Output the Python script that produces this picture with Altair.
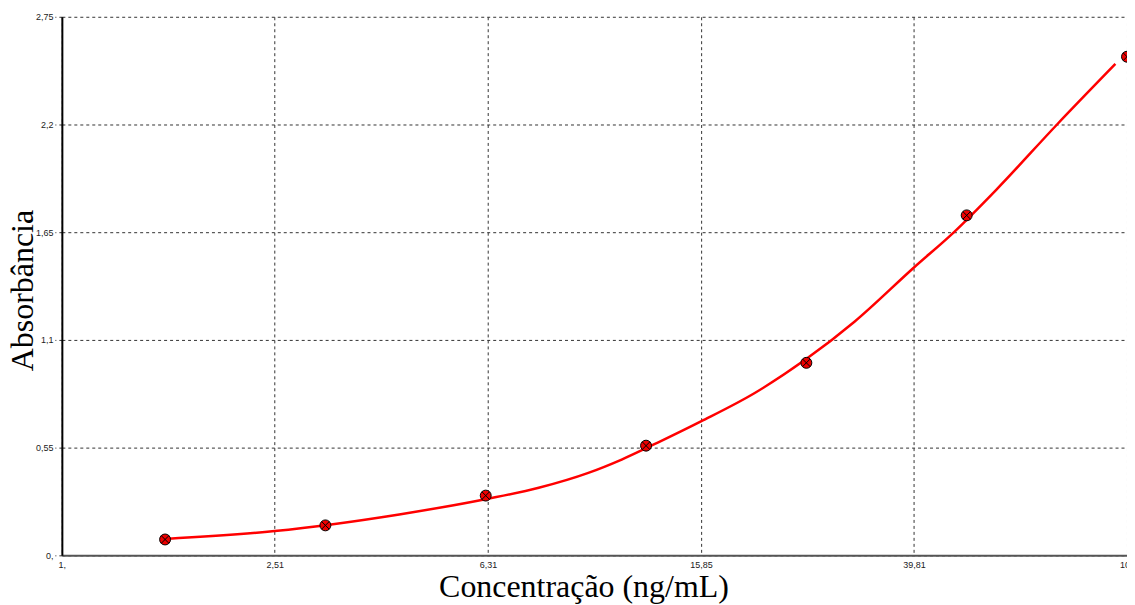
import altair as alt
import pandas as pd

# measured standards
conc = [1.5625, 3.125, 6.25, 12.5, 25, 50, 100]
absorb = [0.081, 0.153, 0.305, 0.56, 0.983, 1.736, 2.546]

# fitted curve
curve_x = [1.5625, 2.51, 4.30, 6.31, 7.86, 9.74, 11.25, 13.18, 15.85, 20.0,
           24.98, 30.78, 39.81, 47.4, 56.7, 73.9, 95.1]
curve_y = [0.084, 0.124, 0.209, 0.289, 0.345, 0.421, 0.489, 0.577, 0.684, 0.829,
           1.002, 1.193, 1.470, 1.652, 1.864, 2.2, 2.509]

x_ticks = [1, 2.51, 6.31, 15.85, 39.81, 100]
x_labels = ["1,", "2,51", "6,31", "15,85", "39,81", "100"]
y_ticks = [0, 0.55, 1.1, 1.65, 2.2, 2.75]
y_labels = ["0,", "0,55", "1,1", "1,65", "2,2", "2,75"]

pts = pd.DataFrame({"c": conc, "a": absorb})
crv = pd.DataFrame({"c": curve_x, "a": curve_y})


def label_expr(vals, labs):
    parts = [f"abs(datum.value - {v}) < 0.001 ? '{l}'" for v, l in zip(vals, labs)]
    return " : ".join(parts) + " : ''"


xs = alt.Scale(type="log", domain=[1, 100], nice=False)
ys = alt.Scale(domain=[0, 2.75], nice=False, zero=False)

x_axis = alt.Axis(
    values=x_ticks, labelExpr=label_expr(x_ticks, x_labels),
    title="Concentração (ng/mL)", titleFont="Liberation Serif", titleFontSize=32,
    titleFontWeight="normal", titleColor="black", titleX=523, titleY=41,
    titleBaseline="alphabetic", titleAlign="center",
    grid=True, gridDash=[3, 3], gridColor="#333333", gridWidth=1,
    domainColor="#555555", domainWidth=2, ticks=False,
    labelFont="Liberation Sans", labelFontSize=9, labelColor="#222222",
    labelPadding=5, labelFlush=False,
)
y_axis = alt.Axis(
    values=y_ticks, labelExpr=label_expr(y_ticks, y_labels),
    title="Absorbância", titleFont="Liberation Serif", titleFontSize=32,
    titleFontWeight="normal", titleColor="black", titleAngle=270,
    titleX=-29, titleY=274, titleAlign="center", titleBaseline="alphabetic",
    grid=True, gridDash=[3, 3], gridColor="#333333", gridWidth=1,
    domainColor="black", domainWidth=2, ticks=True, tickDash=[3, 3],
    tickSize=7, tickColor="#333333",
    labelFont="Liberation Sans", labelFontSize=9, labelColor="#222222",
    labelPadding=2,
)

line = alt.Chart(crv).mark_line(color="#ff0000", strokeWidth=2.5, interpolate="monotone").encode(
    x=alt.X("c:Q", scale=xs, axis=x_axis),
    y=alt.Y("a:Q", scale=ys, axis=y_axis),
)
dots = alt.Chart(pts).mark_point(
    shape="circle", filled=True, fill="#ee0000", stroke="black", strokeWidth=1, size=120, opacity=1
).encode(x=alt.X("c:Q", scale=xs), y=alt.Y("a:Q", scale=ys))
crosses = alt.Chart(pts).mark_point(
    shape="M-0.7,-0.7L0.7,0.7M-0.7,0.7L0.7,-0.7", filled=False, stroke="black",
    strokeWidth=1, size=120, opacity=1
).encode(x=alt.X("c:Q", scale=xs), y=alt.Y("a:Q", scale=ys))

chart = alt.layer(line, dots, crosses).properties(
    width=1068, height=540,
    autosize=alt.AutoSizeParams(type="none"),
    padding={"left": 54, "top": 8, "right": 0, "bottom": 49},
    background="white",
).configure_view(stroke=None)

chart.save("out.html", embed_options={"renderer": "svg", "actions": False})
